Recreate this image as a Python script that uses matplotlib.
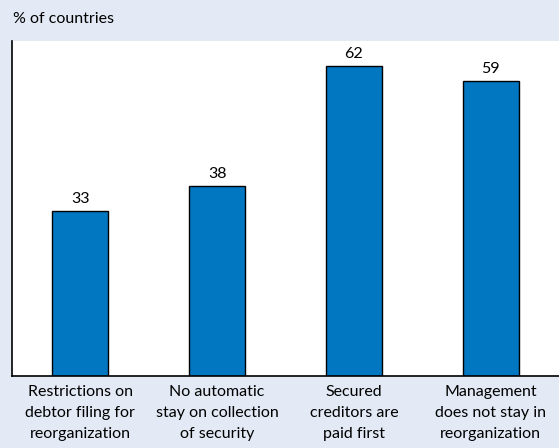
import matplotlib
matplotlib.use("Agg")
import matplotlib.pyplot as plt

# data
categories = ["Restrictions on\ndebtor filing for\nreorganization",
              "No automatic\nstay on collection\nof security",
              "Secured\ncreditors are\npaid first",
              "Management\ndoes not stay in\nreorganization"]
values = [33, 38, 62, 59]

bg = "#e3eaf5"
bar_color = "#0077c0"

plt.rcParams['font.family'] = ['Lato', 'DejaVu Sans']

fig = plt.figure(figsize=(5.59, 4.48), dpi=100, facecolor=bg)
ax = fig.add_axes([0.0215, 0.1607, 0.9785, 0.7478])
ax.set_facecolor("white")

x = list(range(len(values)))
ax.bar(x, values, width=0.41, color=bar_color, edgecolor="black", linewidth=1.0)
for xi, v in zip(x, values):
    ax.annotate(str(v), (xi, v), xytext=(0, 5.5), textcoords="offset points",
                ha="center", va="baseline", fontsize=11.5)

ax.set_xlim(-0.5, 3.5)
ax.set_ylim(0, 67)
ax.set_xticks(x)
ax.set_xticklabels(categories, fontsize=11.5, linespacing=1.62)
ax.tick_params(axis="x", length=0, pad=6.5)
ax.set_yticks([])
ax.spines["top"].set_visible(False)
ax.spines["right"].set_visible(False)
ax.spines["left"].set_linewidth(1.2)
ax.spines["bottom"].set_linewidth(1.2)

fig.text(0.023, 0.958, "% of countries", ha="left", va="center", fontsize=11.5)

fig.savefig("out.png", dpi=100, facecolor=bg)
